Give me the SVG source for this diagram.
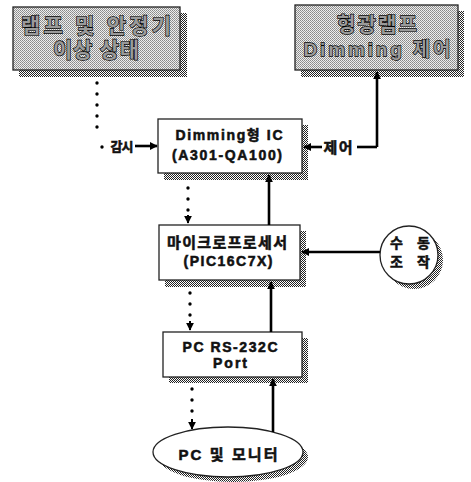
<svg xmlns="http://www.w3.org/2000/svg" width="471" height="482" viewBox="0 0 471 482">
<style>
.t{font-family:"Liberation Sans","Noto Sans CJK KR",sans-serif;font-weight:bold;fill:#111;stroke:#111;stroke-width:0.55;text-anchor:middle}
.tb{font-family:"Liberation Sans","Noto Sans CJK KR",sans-serif;font-weight:bold;fill:#9a9a9a;stroke:#000;stroke-width:1.3;paint-order:stroke;text-anchor:middle}
.box{fill:#fff;stroke:#222;stroke-width:1.3}
.gbox{fill:url(#lite);stroke:#222;stroke-width:1.3}
.sh{fill:url(#dark);stroke:none}
.solid{fill:none;stroke:#000;stroke-width:2.6}
.dot{fill:none;stroke:#000;stroke-width:3.4;stroke-linecap:round;stroke-dasharray:0 11}
</style>
<defs>
<pattern id="dark" width="2" height="2" patternUnits="userSpaceOnUse">
<rect width="2" height="2" fill="#fff"/>
<rect width="1" height="1" fill="#222"/>
<rect x="1" y="1" width="1" height="1" fill="#222"/>
</pattern>
<pattern id="lite" width="2" height="2" patternUnits="userSpaceOnUse">
<rect width="2" height="2" fill="#eee"/>
<rect width="1" height="1" fill="#888"/>
<rect x="1" y="1" width="1" height="1" fill="#999"/>
</pattern>
<marker id="ah" viewBox="0 0 10 10" refX="9" refY="5" markerWidth="3" markerHeight="3" orient="auto" markerUnits="strokeWidth">
<path d="M0,0 L10,5 L0,10 z" fill="#000"/>
</marker>
<marker id="ahd" viewBox="0 0 10 10" refX="9" refY="5" markerWidth="8" markerHeight="8" orient="auto" markerUnits="userSpaceOnUse">
<path d="M0,0 L10,5 L0,10 z" fill="#000"/>
</marker>
</defs>

<g id="n-lamp-status">
<rect class="sh" x="19" y="13" width="168" height="64"/>
<rect class="gbox" x="13" y="7" width="167" height="63"/>
<text class="tb" x="96" y="33" font-size="21" textLength="150" lengthAdjust="spacing">램프 및 안정기</text>
<text class="tb" x="96" y="57" font-size="21" textLength="86" lengthAdjust="spacing">이상 상태</text>
</g>

<g id="n-dimming-control">
<rect class="sh" x="301" y="11" width="163" height="66"/>
<rect class="gbox" x="295" y="5" width="163" height="65"/>
<text class="tb" x="377" y="32" font-size="20" textLength="80" lengthAdjust="spacing">형광램프</text>
<text class="tb" x="377" y="56" font-size="19" textLength="147" lengthAdjust="spacing">Dimming 제어</text>
</g>

<g id="n-ic">
<rect class="sh" x="164" y="125" width="144" height="55"/>
<rect class="box" x="158" y="119" width="144" height="54"/>
<text class="t" x="229" y="140" font-size="14" textLength="107" lengthAdjust="spacing">Dimming형 IC</text>
<text class="t" x="227" y="160" font-size="14" textLength="110" lengthAdjust="spacing">(A301-QA100)</text>
</g>

<g id="n-mcu">
<rect class="sh" x="165" y="231" width="141" height="56"/>
<rect class="box" x="159" y="225" width="141" height="55"/>
<text class="t" x="227" y="248" font-size="15" textLength="120" lengthAdjust="spacing">마이크로프로세서</text>
<text class="t" x="228" y="266" font-size="14" textLength="89" lengthAdjust="spacing">(PIC16C7X)</text>
</g>

<g id="n-manual">
<circle class="sh" cx="414" cy="260" r="29"/>
<circle class="box" cx="409" cy="255" r="29"/>
<text class="t" x="410" y="248" font-size="14" textLength="40" lengthAdjust="spacing">수 동</text>
<text class="t" x="410" y="267" font-size="14" textLength="40" lengthAdjust="spacing">조 작</text>
</g>

<g id="n-port">
<rect class="sh" x="169" y="338" width="139" height="45"/>
<rect class="box" x="163" y="332" width="139" height="45"/>
<text class="t" x="230" y="352" font-size="14" textLength="95" lengthAdjust="spacing">PC RS-232C</text>
<text class="t" x="230" y="368" font-size="14" textLength="34" lengthAdjust="spacing">Port</text>
</g>

<g id="n-pc">
<ellipse class="sh" cx="233" cy="457" rx="75" ry="25"/>
<ellipse class="box" cx="228" cy="452" rx="75" ry="25"/>
<text class="t" x="228" y="460" font-size="15" textLength="99" lengthAdjust="spacing">PC 및 모니터</text>
</g>

<g id="connectors">
<path class="dot" d="M97,83 V138"/>
<circle cx="102" cy="147" r="1.7" fill="#000"/>
<text class="t" x="122" y="151" font-size="13" textLength="23" lengthAdjust="spacing">감시</text>
<path class="solid" d="M135,146 H157" marker-end="url(#ah)"/>

<path class="solid" d="M377,147 V72" marker-end="url(#ah)"/>
<path class="solid" d="M377,147 H357"/>
<text class="t" x="338" y="153" font-size="15" textLength="29" lengthAdjust="spacing">제어</text>
<path class="solid" d="M322,147 H304" marker-end="url(#ah)"/>

<path class="dot" d="M188,188 V212"/>
<path d="M188,215 V223" stroke="#000" stroke-width="2" marker-end="url(#ahd)"/>
<path class="solid" d="M269,225 V175" marker-end="url(#ah)"/>

<path class="solid" d="M380,252 H302" marker-end="url(#ah)"/>

<path class="dot" d="M190,293 V317"/>
<path d="M190,321 V330" stroke="#000" stroke-width="2" marker-end="url(#ahd)"/>
<path class="solid" d="M271,332 V282" marker-end="url(#ah)"/>

<path class="dot" d="M192,389 V413"/>
<path d="M192,419 V429" stroke="#000" stroke-width="2" marker-end="url(#ahd)"/>
<path class="solid" d="M273,432 V379" marker-end="url(#ah)"/>
</g>
</svg>
